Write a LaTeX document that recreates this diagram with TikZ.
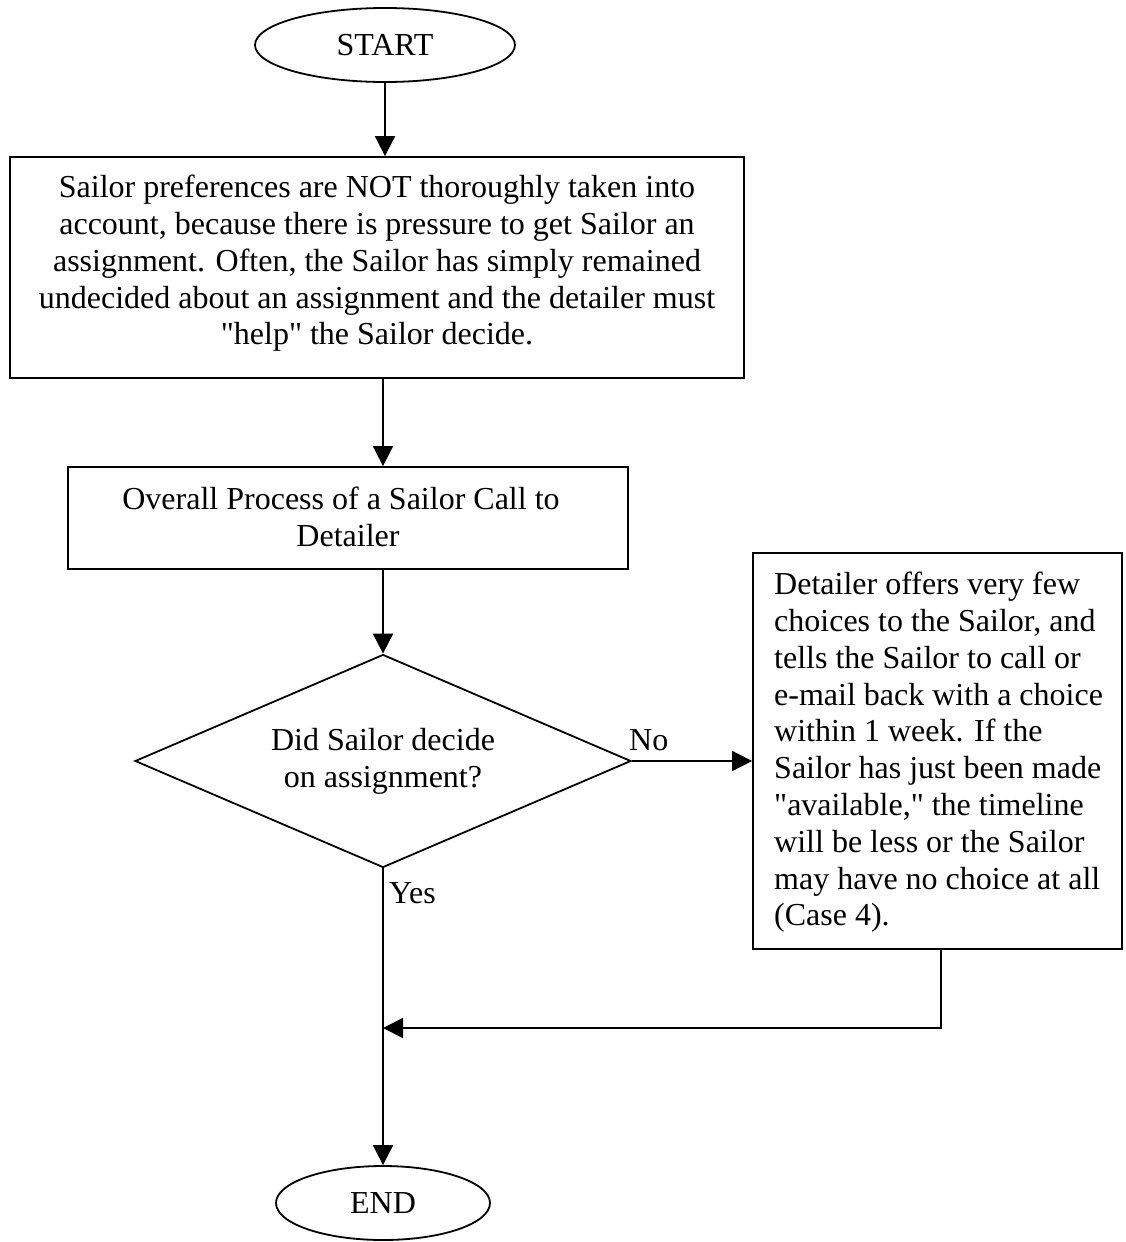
\documentclass[tikz,border=0pt]{standalone}
\usepackage{fontspec}
\setmainfont{Liberation Serif}
\usetikzlibrary{shapes.geometric,arrows.meta,calc}
\newcommand\diagfont{\fontsize{32}{36.8}\selectfont}
\newcommand\sq{\textquotedbl}
\begin{document}
\begin{tikzpicture}[x=1pt,y=-1pt,
  every node/.style={font=\diagfont},
  boxshape/.style={draw,rectangle,line width=1.8pt,inner sep=0pt},
  term/.style={draw,ellipse,line width=1.8pt,inner sep=0pt},
  txt/.style={inner sep=0pt},
  flow/.style={line width=1.8pt,-{Triangle[width=20pt,length=20pt]}},
  plainline/.style={line width=1.8pt}]
\useasboundingbox (0,0) rectangle (1125,1242);
\node[term,minimum width=260pt,minimum height=74pt] (start) at (385,45) {START};
\node[boxshape,minimum width=734pt,minimum height=221pt] (b1) at (377,267.5) {};
\node[txt,align=center,anchor=north] (t1) at (377,175) {Sailor preferences are NOT thoroughly taken into\\
account, because there is pressure to get Sailor an\\
assignment. Often, the Sailor has simply remained\\
undecided about an assignment and the detailer must\\
\sq help\sq{} the Sailor decide.};
\node[boxshape,minimum width=560pt,minimum height=102pt] (b2) at (348,518) {};
\node[txt,align=center,anchor=north] (t2) at (348,487) {Overall Process of a Sailor Call to\kern14pt\\Detailer};
\node[draw,diamond,line width=1.8pt,inner sep=0pt,minimum width=496pt,minimum height=213pt,aspect=2.33,align=center] (dec) at (383,761) {Did Sailor decide\\on assignment?};
\node[boxshape,minimum width=369pt,minimum height=396pt] (b3) at (937.5,751) {};
\node[txt,align=left,anchor=north west] (t3) at (774,572) {Detailer offers very few\\
choices to the Sailor, and\\
tells the Sailor to call or\\
e-mail back with a choice\\
within 1 week. If the\\
Sailor has just been made\\
\sq available,\sq{} the timeline\\
will be less or the Sailor\\
may have no choice at all\\
(Case 4).};
\node[term,minimum width=214pt,minimum height=74pt] (end) at (383,1203) {END};
\node[txt,anchor=base west] (no) at (629,750) {No};
\node[txt,anchor=base west] (yes) at (389,903) {Yes};
\coordinate (merge) at (383,1028);
\coordinate (turn) at (941,1028);
\draw[flow] (start.south) -- (start.south |- b1.north);
\draw[flow] (b1.south -| dec.north) -- (b2.north -| dec.north);
\draw[flow] (b2.south -| dec.north) -- (dec.north);
\draw[flow] (dec.east) -- (dec.east -| b3.west);
\draw[flow] (dec.south) -- (end.north);
\draw[flow] (b3.south -| turn) -- (turn) -- (merge);
\end{tikzpicture}
\end{document}
